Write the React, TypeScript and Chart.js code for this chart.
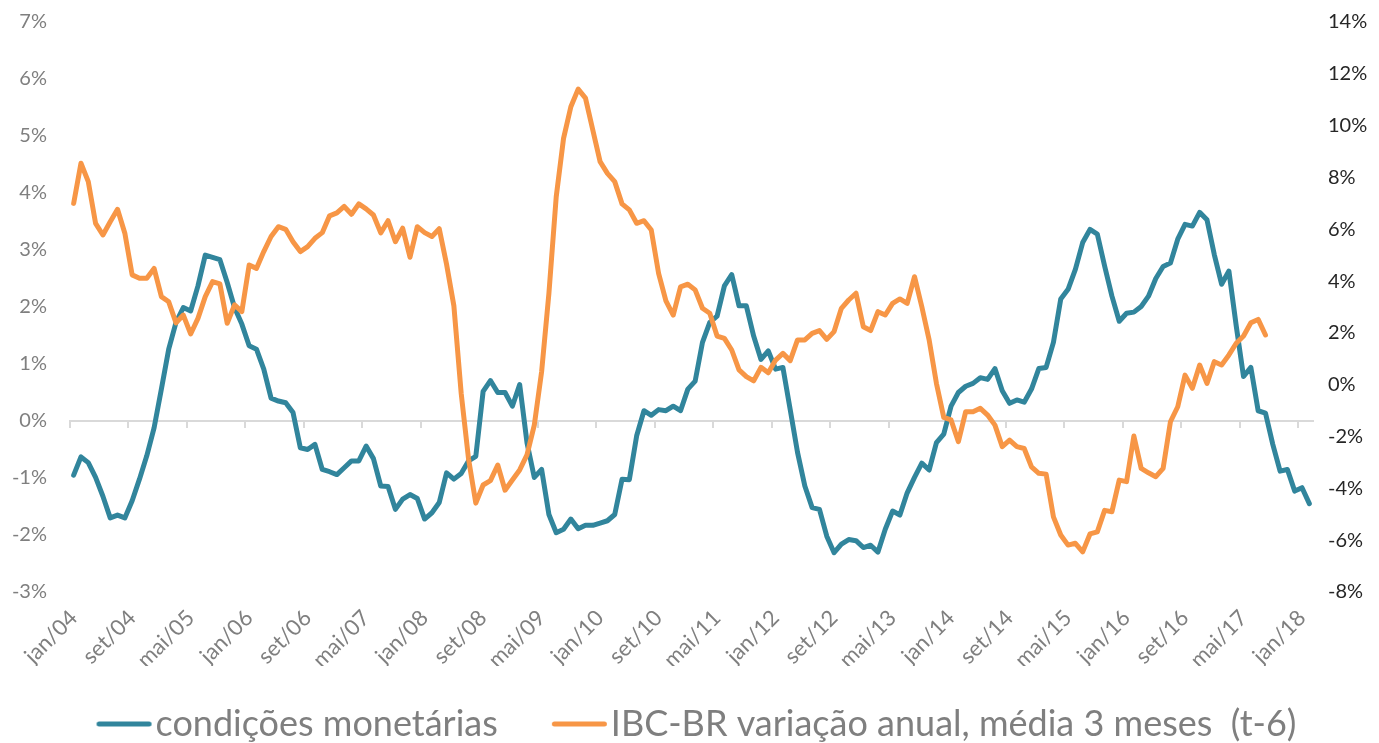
import { useEffect, useRef } from 'react';
import { Chart, registerables } from 'chart.js';

Chart.register(...registerables);

// ---------- data ----------
const MONTHS = ['jan', 'fev', 'mar', 'abr', 'mai', 'jun', 'jul', 'ago', 'set', 'out', 'nov', 'dez'];
const START_YEAR = 2004;
const N_MONTHS = 170; // jan/04 .. fev/18
const LABEL_EVERY = 8;

const categories: string[] = Array.from({ length: N_MONTHS }, (_, i) => {
  const yy = (START_YEAR + Math.floor(i / 12)) % 100;
  return `${MONTHS[i % 12]}/${String(yy).padStart(2, '0')}`;
});

// condições monetárias (left axis, %)
const condicoesMonetarias = [
  -0.95, -0.63, -0.73, -0.99, -1.32, -1.7, -1.65, -1.7, -1.4, -1.02,
  -0.61, -0.12, 0.56, 1.26, 1.73, 1.99, 1.93, 2.37, 2.91, 2.87,
  2.83, 2.43, 1.99, 1.7, 1.32, 1.26, 0.91, 0.4, 0.35, 0.32,
  0.15, -0.47, -0.5, -0.41, -0.85, -0.89, -0.94, -0.82, -0.7, -0.7,
  -0.44, -0.66, -1.14, -1.15, -1.55, -1.37, -1.29, -1.36, -1.72, -1.61,
  -1.43, -0.91, -1.02, -0.92, -0.7, -0.62, 0.52, 0.71, 0.5, 0.5,
  0.26, 0.64, -0.38, -0.99, -0.85, -1.64, -1.96, -1.9, -1.72, -1.89,
  -1.83, -1.83, -1.79, -1.75, -1.64, -1.02, -1.03, -0.26, 0.18, 0.1,
  0.2, 0.18, 0.26, 0.18, 0.56, 0.7, 1.38, 1.73, 1.84, 2.37,
  2.57, 2.02, 2.02, 1.49, 1.08, 1.23, 0.91, 0.94, 0.2, -0.55,
  -1.14, -1.52, -1.55, -2.02, -2.31, -2.16, -2.08, -2.1, -2.22, -2.18,
  -2.3, -1.9, -1.58, -1.65, -1.26, -0.99, -0.74, -0.86, -0.38, -0.23,
  0.26, 0.5, 0.61, 0.66, 0.76, 0.73, 0.92, 0.53, 0.31, 0.37,
  0.33, 0.56, 0.92, 0.94, 1.38, 2.14, 2.31, 2.66, 3.13, 3.36,
  3.28, 2.72, 2.19, 1.75, 1.89, 1.91, 2.01, 2.19, 2.5, 2.71,
  2.77, 3.19, 3.45, 3.42, 3.66, 3.53, 2.92, 2.4, 2.63, 1.67,
  0.78, 0.94, 0.18, 0.14, -0.41, -0.88, -0.85, -1.23, -1.17, -1.45,
];

// IBC-BR variação anual, média 3 meses (t-6) (right axis, %)
const ibcBr = [
  7.0, 8.55, 7.84, 6.23, 5.78, 6.29, 6.77, 5.85, 4.24, 4.11,
  4.11, 4.49, 3.4, 3.2, 2.39, 2.69, 1.96, 2.56, 3.4, 3.98,
  3.89, 2.37, 3.08, 2.82, 4.62, 4.49, 5.14, 5.72, 6.1, 6.0,
  5.52, 5.14, 5.33, 5.65, 5.87, 6.52, 6.63, 6.88, 6.58, 6.98,
  6.79, 6.55, 5.86, 6.33, 5.52, 6.04, 4.92, 6.1, 5.87, 5.72,
  6.02, 4.65, 3.05, -0.33, -2.85, -4.57, -3.87, -3.7, -3.1, -4.07,
  -3.68, -3.29, -2.71, -1.56, 0.5, 3.53, 7.26, 9.51, 10.73, 11.41,
  11.06, 9.83, 8.61, 8.16, 7.84, 6.98, 6.75, 6.23, 6.33, 5.97,
  4.3, 3.24, 2.69, 3.78, 3.88, 3.66, 2.95, 2.76, 1.88, 1.79,
  1.34, 0.57, 0.31, 0.15, 0.67, 0.46, 0.95, 1.21, 0.93, 1.73,
  1.73, 1.98, 2.09, 1.75, 2.05, 2.95, 3.27, 3.53, 2.24, 2.09,
  2.82, 2.69, 3.14, 3.31, 3.14, 4.17, 3.01, 1.73, 0.05, -1.26,
  -1.36, -2.2, -1.04, -1.04, -0.91, -1.17, -1.56, -2.39, -2.14, -2.39,
  -2.46, -3.17, -3.42, -3.45, -5.1, -5.8, -6.19, -6.12, -6.45, -5.76,
  -5.68, -4.85, -4.9, -3.68, -3.74, -1.98, -3.23, -3.4, -3.55, -3.23,
  -1.43, -0.85, 0.37, -0.14, 0.76, 0.05, 0.89, 0.76, 1.15, 1.6,
  1.88, 2.39, 2.52, 1.92,
];

const LEFT_MIN = -3;
const LEFT_MAX = 7;
const LEFT_STEP = 1;
const RIGHT_MIN = -8;
const RIGHT_MAX = 14;
const RIGHT_STEP = 2;

const SERIES_NAMES = ['condições monetárias', 'IBC-BR variação anual, média 3 meses  (t-6)'];

// ---------- style ----------
const TEAL = '#31859c';
const ORANGE = '#f79646';
const AXIS_GRAY = '#d9d9d9';
const LABEL_GRAY = '#7f7f7f';
const DARK = '#262626';
const FONT = 'Lato, "Open Sans", sans-serif';
const LEGEND_FONT_SIZE = 36;
const LEGEND_BOX = 55;

// legend sample: a short thick line that sits close to its text
function makeLegendLine(color: string): HTMLCanvasElement {
  const shift = LEGEND_FONT_SIZE / 2 - 4; // pull line towards the text
  const w = LEGEND_BOX + 2 * shift + 6;
  const c = document.createElement('canvas');
  c.width = Math.round(w);
  c.height = 10;
  const g = c.getContext('2d');
  if (g) {
    g.strokeStyle = color;
    g.lineWidth = 5;
    g.lineCap = 'round';
    g.beginPath();
    const mid = c.width / 2 + shift;
    g.moveTo(mid - LEGEND_BOX / 2 + 2.5, 5);
    g.lineTo(mid + LEGEND_BOX / 2 - 2.5, 5);
    g.stroke();
  }
  return c;
}

export default function App() {
  const canvasRef = useRef<HTMLCanvasElement | null>(null);

  useEffect(() => {
    document.body.style.margin = '0';
    const canvas = canvasRef.current;
    if (!canvas) return;
    Chart.defaults.font.family = FONT;

    const legendImages = [makeLegendLine(TEAL), makeLegendLine(ORANGE)];

    const chart = new Chart(canvas, {
      type: 'line',
      data: {
        labels: categories,
        datasets: [
          {
            label: SERIES_NAMES[0],
            data: condicoesMonetarias,
            borderColor: TEAL,
            backgroundColor: TEAL,
            borderWidth: 5,
            pointRadius: 0,
            tension: 0,
            borderJoinStyle: 'round',
            borderCapStyle: 'round',
            xAxisID: 'x',
            yAxisID: 'y',
            order: 2,
          },
          {
            label: SERIES_NAMES[1],
            data: ibcBr,
            borderColor: ORANGE,
            backgroundColor: ORANGE,
            borderWidth: 5,
            pointRadius: 0,
            tension: 0,
            borderJoinStyle: 'round',
            borderCapStyle: 'round',
            xAxisID: 'x',
            yAxisID: 'y1',
            order: 1,
          },
        ],
      },
      options: {
        responsive: true,
        maintainAspectRatio: false,
        animation: false,
        layout: { padding: { top: 22, bottom: -9, left: 0, right: 0 } },
        plugins: {
          tooltip: { enabled: false },
          legend: {
            position: 'bottom',
            labels: {
              usePointStyle: true,
              pointStyleWidth: LEGEND_BOX,
              padding: 40,
              color: LABEL_GRAY,
              font: { size: LEGEND_FONT_SIZE, family: FONT },
              generateLabels: (ch: any) => {
                const items = Chart.defaults.plugins.legend.labels.generateLabels(ch);
                return items
                  .sort((a: any, b: any) => a.datasetIndex - b.datasetIndex)
                  .map((it: any) => ({ ...it, pointStyle: legendImages[it.datasetIndex] }));
              },
            },
          },
        },
        scales: {
          x: {
            type: 'category',
            position: 'bottom',
            offset: true,
            grid: { display: false, drawTicks: false },
            border: { display: false },
            ticks: {
              autoSkip: false,
              minRotation: 45,
              maxRotation: 45,
              padding: 13,
              color: LABEL_GRAY,
              font: { size: 22, family: FONT },
              callback: (_v: any, i: number) => (i % LABEL_EVERY === 0 ? categories[i] : ''),
            },
            afterFit: (s: any) => {
              s.height = 74;
            },
          },
          x2: {
            type: 'category',
            position: { y: 0 } as any,
            offset: true,
            grid: {
              offset: true,
              drawOnChartArea: false,
              drawTicks: true,
              tickLength: 6,
              lineWidth: 2,
              color: (ctx: any) => (ctx.index % LABEL_EVERY === 0 ? AXIS_GRAY : 'rgba(0,0,0,0)'),
            },
            border: { display: true, color: AXIS_GRAY, width: 2 },
            ticks: { display: false, autoSkip: false },
          },
          y: {
            position: 'left',
            min: LEFT_MIN,
            max: LEFT_MAX,
            // invisible tick marks only provide the gap between labels and plot
            grid: { display: false, drawTicks: true, tickLength: 22 },
            border: { display: false },
            ticks: {
              stepSize: LEFT_STEP,
              padding: 1,
              color: LABEL_GRAY,
              font: { size: 20, family: FONT },
              callback: (v: any) => `${v}%`,
            },
            afterFit: (s: any) => {
              s.width = 70;
            },
          },
          y1: {
            position: 'right',
            min: RIGHT_MIN,
            max: RIGHT_MAX,
            grid: { display: false, drawTicks: true, tickLength: 14 },
            border: { display: false },
            ticks: {
              stepSize: RIGHT_STEP,
              padding: 1,
              color: DARK,
              font: { size: 20, family: FONT },
              callback: (v: any) => `${v}%`,
            },
            afterFit: (s: any) => {
              s.width = 66;
            },
          },
        },
      },
    });

    return () => chart.destroy();
  }, []);

  return (
    <div style={{ position: 'relative', width: '1379px', height: '743px' }}>
      <canvas ref={canvasRef} />
    </div>
  );
}
